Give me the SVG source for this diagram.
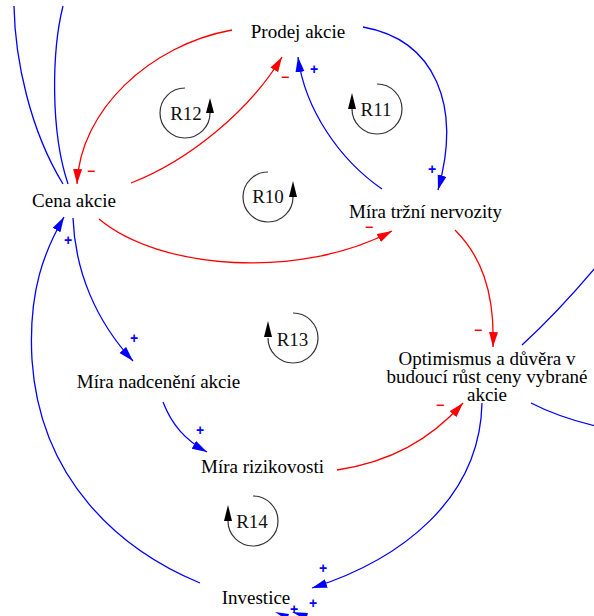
<svg xmlns="http://www.w3.org/2000/svg" width="594" height="616" viewBox="0 0 594 616">
<style>
.node{font-family:"Liberation Serif","Times New Roman",serif;font-size:19px;fill:#000;text-anchor:middle}
.loop{font-family:"Liberation Serif","Times New Roman",serif;font-size:19px;fill:#111;text-anchor:middle}
.r{fill:none;stroke:#ff0000;stroke-width:1.3}
.b{fill:none;stroke:#0000ff;stroke-width:1.3}
.pol{font-family:"Liberation Sans",Arial,sans-serif;font-size:14px;font-weight:bold;text-anchor:middle}
.pr{fill:#ff0000}
.pb{fill:#0000ff}
.arc{fill:none;stroke:#333;stroke-width:1.2}
</style>
<defs>
<marker id="ar" markerUnits="userSpaceOnUse" markerWidth="16" markerHeight="10" refX="15" refY="4.5" orient="auto"><path d="M0,0 L15,4.5 L0,9 Z" fill="#ff0000"/></marker>
<marker id="ab" markerUnits="userSpaceOnUse" markerWidth="16" markerHeight="10" refX="15" refY="4.5" orient="auto"><path d="M0,0 L15,4.5 L0,9 Z" fill="#0000ff"/></marker>
</defs>
<rect width="594" height="616" fill="#fff"/>
<g id="connectors">
<path class="r" d="M232,30 C150,45 80,110 77,184" marker-end="url(#ar)"/>
<path class="r" d="M131,183 C190,160 250,110 282,57" marker-end="url(#ar)"/>
<path class="b" d="M382,189 C340,160 305,110 298,57" marker-end="url(#ab)"/>
<path class="b" d="M363,27 C435,40 462,105 438,190" marker-end="url(#ab)"/>
<path class="r" d="M99,219 C160,270 300,280 392,231" marker-end="url(#ar)"/>
<path class="r" d="M455,230 C480,255 495,290 493,347" marker-end="url(#ar)"/>
<path class="r" d="M337,470 C390,462 430,440 463,403" marker-end="url(#ar)"/>
<path class="b" d="M482,403 C480,500 400,560 312,588" marker-end="url(#ab)"/>
<path class="b" d="M200,583 C120,550 40,480 32,360 C28,290 45,250 64,217" marker-end="url(#ab)"/>
<path class="b" d="M73,218 C75,270 95,320 133,361" marker-end="url(#ab)"/>
<path class="b" d="M163,402 C172,425 185,440 207,452" marker-end="url(#ab)"/>
<path class="b" d="M14,6 C15,60 30,130 63,184"/>
<path class="b" d="M63,6 C52,50 50,130 68,184"/>
<path class="b" d="M522,345 Q560,310 600,262"/>
<path class="b" d="M531,403 Q560,418 600,427"/>
<polygon points="275,612 289,614 287,620" fill="#0000ff"/>
<polygon points="292,612 308,613 306,620" fill="#0000ff"/>
<text class="pol pr" x="91" y="176">−</text>
<text class="pol pr" x="285" y="82">−</text>
<text class="pol pb" x="314" y="74">+</text>
<text class="pol pb" x="432" y="174">+</text>
<text class="pol pr" x="369" y="232">−</text>
<text class="pol pr" x="478" y="335">−</text>
<text class="pol pr" x="440" y="410">−</text>
<text class="pol pb" x="323" y="573">+</text>
<text class="pol pb" x="68" y="245">+</text>
<text class="pol pb" x="134" y="343">+</text>
<text class="pol pb" x="200" y="435">+</text>
<text class="pol pb" x="294" y="614">+</text>
<text class="pol pb" x="313" y="608">+</text>
</g>
<g id="loops">
<g id="R12"><path class="arc" d="M185,88 A25,25 0 1 0 210,113"/><polygon points="210,98 206,113 214,113" fill="#000"/><text class="loop" x="186" y="120">R12</text></g>
<g id="R10"><path class="arc" d="M268,172 A25,25 0 1 0 293,197"/><polygon points="293,181 289,197 297,197" fill="#000"/><text class="loop" x="268" y="203">R10</text></g>
<g id="R11"><path class="arc" d="M377,84 A25,25 0 1 1 352,109"/><polygon points="352,93 348,109 356,109" fill="#000"/><text class="loop" x="376" y="116">R11</text></g>
<g id="R13"><path class="arc" d="M293,313 A25,25 0 1 1 268,338"/><polygon points="268,321 264,337 272,337" fill="#000"/><text class="loop" x="292.5" y="346">R13</text></g>
<g id="R14"><path class="arc" d="M253,496 A25,25 0 1 1 228,521"/><polygon points="228,505 224,521 232,521" fill="#000"/><text class="loop" x="252" y="528">R14</text></g>
</g>
<g id="node-prodej"><text class="node" x="298" y="38">Prodej akcie</text></g>
<g id="node-cena"><text class="node" x="74" y="207">Cena akcie</text></g>
<g id="node-nervozita"><text class="node" x="425.5" y="217.5">Míra tržní nervozity</text></g>
<g id="node-optimismus"><text class="node" x="487" y="365">Optimismus a důvěra v</text><text class="node" x="487" y="383">budoucí růst ceny vybrané</text><text class="node" x="487" y="401">akcie</text></g>
<g id="node-nadceneni"><text class="node" x="158.5" y="388">Míra nadcenění akcie</text></g>
<g id="node-rizikovost"><text class="node" x="262.5" y="472.5">Míra rizikovosti</text></g>
<g id="node-investice"><text class="node" x="256" y="604">Investice</text></g>
</svg>
